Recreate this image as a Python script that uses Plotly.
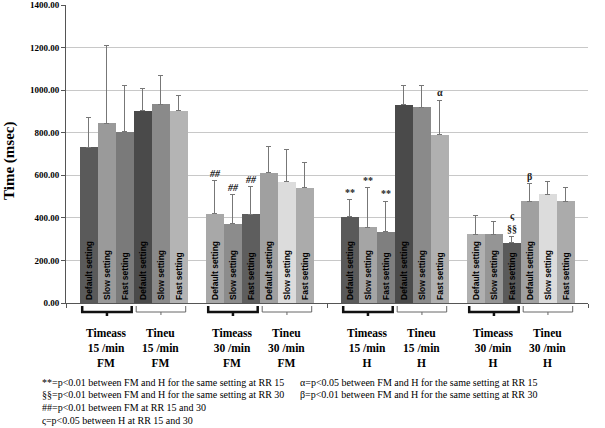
import plotly.graph_objects as go

# ---------------- data ----------------
settings = ["Default setting", "Slow setting", "Fast setting"]
group_labels = [
    "Timeass<br>15 /min<br>FM", "Tineu<br>15 /min<br>FM",
    "Timeass<br>30 /min<br>FM", "Tineu<br>30 /min<br>FM",
    "Timeass<br>15 /min<br>H", "Tineu<br>15 /min<br>H",
    "Timeass<br>30 /min<br>H", "Tineu<br>30 /min<br>H",
]
means_timeass15_fm = [731, 844, 804]
means_tineu15_fm = [903, 933, 903]
means_timeass30_fm = [420, 372, 416]
means_tineu30_fm = [611, 569, 541]
means_timeass15_h = [405, 357, 334]
means_tineu15_h = [932, 919, 790]
means_timeass30_h = [322, 322, 284]
means_tineu30_h = [478, 511, 478]

sd_timeass15_fm = [139, 368, 217]
sd_tineu15_fm = [105, 138, 71]
sd_timeass30_fm = [154, 137, 130]
sd_tineu30_fm = [126, 154, 119]
sd_timeass15_h = [81, 184, 144]
sd_tineu15_h = [92, 105, 163]
sd_timeass30_h = [91, 59, 30]
sd_tineu30_h = [82, 58, 65]

colors = [
    ["#5a5a5a", "#9a9a9a", "#7a7a7a"],
    ["#4a4a4a", "#8a8a8a", "#b4b4b4"],
    ["#a8a8a8", "#8c8c8c", "#5e5e5e"],
    ["#a0a0a0", "#dcdcdc", "#ababab"],
    ["#5a5a5a", "#a5a5a5", "#7f7f7f"],
    ["#4a4a4a", "#8a8a8a", "#b0b0b0"],
    ["#b0b0b0", "#959595", "#5a5a5a"],
    ["#a0a0a0", "#dcdcdc", "#ababab"],
]
# significance marks: (group index, setting index, text)
marks = [
    (2, 0, "##"), (2, 1, "##"), (2, 2, "##"),
    (4, 0, "**"), (4, 1, "**"), (4, 2, "**"),
    (5, 2, "α"),
    (6, 2, "ς<br>§§"),
    (7, 0, "β"),
]
footnotes_left = [
    "**=p<0.01 between FM and H for the same setting at RR 15",
    "§§=p<0.01 between FM and H for the same setting at RR 30",
    "##=p<0.01 between FM at RR 15 and 30",
    "ς=p<0.05 between H at RR 15 and 30",
]
footnotes_right = [
    "α=p<0.05 between FM and H for the same setting at RR 15",
    "β=p<0.01 between FM and H for the same setting at RR 30",
]

means = [means_timeass15_fm, means_tineu15_fm, means_timeass30_fm, means_tineu30_fm,
         means_timeass15_h, means_tineu15_h, means_timeass30_h, means_tineu30_h]
sds = [sd_timeass15_fm, sd_tineu15_fm, sd_timeass30_fm, sd_tineu30_fm,
       sd_timeass15_h, sd_tineu15_h, sd_timeass30_h, sd_tineu30_h]

# ---------------- layout geometry ----------------
W, H = 605, 428
ML, MR, MT, MB = 66, 17, 5, 125
PW, PH = W - ML - MR, H - MT - MB
HALF = 14.5
XMAX = 2 * HALF


def group_start(g):
    half, rest = divmod(g, 4)
    cluster, sub = divmod(rest, 2)
    return half * HALF + 0.75 + cluster * 7 + sub * 3


def py(pix):  # pixel y (from top of figure) -> paper y
    return (H - MB - pix) / PH


def px(pix):  # pixel x -> paper x
    return (pix - ML) / PW


fig = go.Figure()
for g in range(8):
    x0 = group_start(g)
    xs = [x0 + k + 0.5 for k in range(3)]
    fig.add_trace(go.Bar(
        x=xs, y=means[g], width=1,
        marker=dict(color=colors[g], line=dict(width=0)),
        text=settings, textposition="inside", textangle=-90,
        insidetextanchor="start",
        insidetextfont=dict(family="Liberation Sans", size=8.5, color="black", weight="bold"),
        error_y=dict(type="data", symmetric=False, array=sds[g], arrayminus=[0, 0, 0],
                     color="#777777", thickness=1, width=2.5),
        showlegend=False, hoverinfo="skip",
    ))

annotations = []
shapes = []
# significance marks
for g, k, t in marks:
    x = group_start(g) + k + 0.5
    annotations.append(dict(
        x=x, y=means[g][k] + sds[g][k], xref="x", yref="y",
        text=("<b><i>%s</i></b>" % t) if "#" in t else ("<b>%s</b>" % t),
        showarrow=False, yanchor="bottom",
        font=dict(family="Liberation Serif", size=10, color="#222222"),
    ))

# brackets and group labels
for g in range(8):
    s = group_start(g)
    a, b = s + 0.15, s + 2.9
    m = (a + b) / 2
    thick = (g % 2 == 0)
    yt, yh, yd = py(306), py(312), py(316 if thick else 315)
    shapes.append(dict(
        type="path", xref="x", yref="paper",
        path=f"M {a},{yt} L {a},{yh} L {b},{yh} L {b},{yt} M {m},{yh} L {m},{yd}",
        line=dict(color="#111111" if thick else "#666666", width=2.5 if thick else 1),
    ))
    annotations.append(dict(
        x=s + 1.5, y=py(325), xref="x", yref="paper", text="<b>%s</b>" % group_labels[g],
        showarrow=False, yanchor="top", xanchor="center", align="center",
        font=dict(family="Liberation Serif", size=11.5, color="black"),
    ))

# footnotes
for i, t in enumerate(footnotes_left):
    annotations.append(dict(
        x=px(40), y=py(382 + i * 12.7), xref="paper", yref="paper", text=t,
        showarrow=False, xanchor="left", yanchor="middle",
        font=dict(family="Liberation Serif", size=10, color="black"),
    ))
for i, t in enumerate(footnotes_right):
    annotations.append(dict(
        x=px(298), y=py(382 + i * 12.7), xref="paper", yref="paper", text=t,
        showarrow=False, xanchor="left", yanchor="middle",
        font=dict(family="Liberation Serif", size=10, color="black"),
    ))

# y-axis title
annotations.append(dict(
    x=px(9), y=py(161), xref="paper", yref="paper", text="<b>Time (msec)</b>",
    showarrow=False, textangle=-90, xanchor="center", yanchor="middle",
    font=dict(family="Liberation Serif", size=15, color="black"),
))

fig.update_layout(
    width=W, height=H,
    margin=dict(l=ML, r=MR, t=MT, b=MB, pad=0, autoexpand=False),
    paper_bgcolor="white", plot_bgcolor="white",
    barmode="overlay", bargap=0,
    annotations=annotations, shapes=shapes,
    xaxis=dict(range=[0, XMAX], showgrid=False, zeroline=False, showline=True,
               linecolor="#555555", linewidth=1, tickvals=[0, HALF, XMAX],
               ticks="outside", ticklen=4, tickcolor="#555555", showticklabels=False,
               fixedrange=True, automargin=False),
    yaxis=dict(range=[0, 1400], dtick=200, tickformat=".2f", showgrid=True,
               gridcolor="#c8c8c8", gridwidth=1, zeroline=False, showline=True,
               linecolor="#555555", linewidth=1, ticks="outside", ticklen=4,
               tickcolor="#555555",
               tickfont=dict(family="Liberation Serif", size=9, color="black", weight="bold"),
               fixedrange=True, automargin=False),
)

fig.write_html("out.html", config={"displayModeBar": False},
               post_script="document.body.style.margin='0px';")
